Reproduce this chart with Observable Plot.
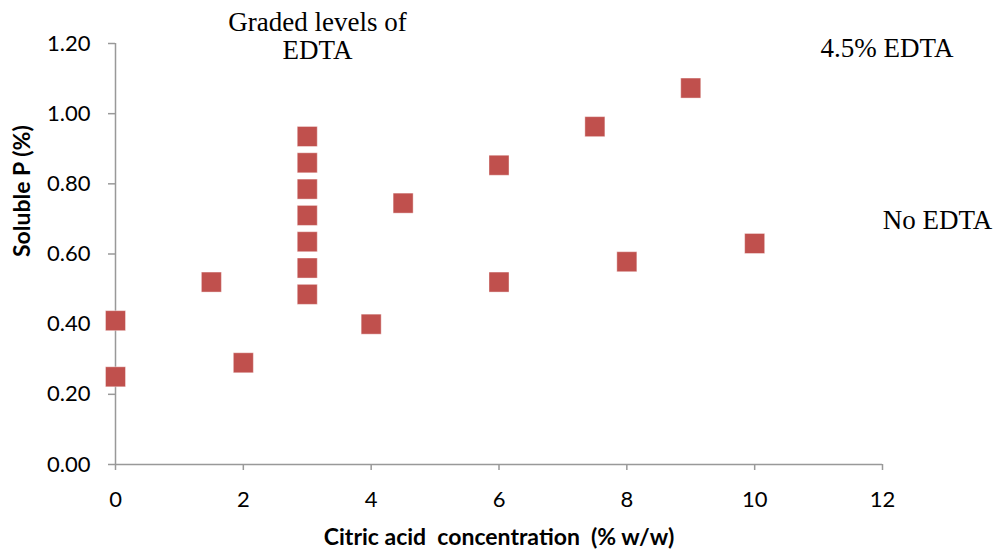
<!DOCTYPE html>
<html><head><meta charset="utf-8">
<script src="https://cdn.jsdelivr.net/npm/d3@7"></script>
<script src="https://cdn.jsdelivr.net/npm/@observablehq/plot@0.6"></script>
<style>body{margin:0;background:#fff}</style>
</head><body><div id="chart"></div>
<script>
const citric = [0, 0, 1.5, 2, 3, 3, 3, 3, 3, 3, 3, 4, 4.5, 6, 6, 7.5, 8, 9, 10];
const solubleP = [0.41, 0.25, 0.52, 0.29, 0.935, 0.86, 0.785, 0.71, 0.635, 0.56, 0.485, 0.40, 0.745, 0.853, 0.52, 0.963, 0.578, 1.073, 0.63];
const xTicks = [0, 2, 4, 6, 8, 10, 12];
const yTicks = [0, 0.2, 0.4, 0.6, 0.8, 1.0, 1.2];
const noteText = ["Graded levels of", "EDTA", "4.5% EDTA", "No EDTA"];
const noteX = [3.16, 3.16, 12.07, 12.86];
const noteY = [1.26, 1.18, 1.185, 0.695];

const points = citric.map((x, i) => ({x, y: solubleP[i]}));
const notes = noteText.map((t, i) => ({t, x: noteX[i], y: noteY[i]}));

const chart = Plot.plot({
  width: 995, height: 554,
  marginLeft: 115, marginRight: 113, marginTop: 43, marginBottom: 90,
  style: {fontFamily: "Lato, 'Liberation Sans', sans-serif", fontSize: "21px", color: "#000", background: "#fff", overflow: "visible"},
  x: {domain: [0, 12]},
  y: {domain: [0, 1.2]},
  marks: [
    Plot.ruleX([0], {y1: 0, y2: 1.2, stroke: "#999", strokeWidth: 1.5}),
    Plot.ruleY([0], {x1: 0, x2: 12, stroke: "#999", strokeWidth: 1.5}),
    Plot.axisY(yTicks, {tickSize: 7, tickPadding: 18, stroke: "#999", strokeWidth: 1.5, tickFormat: d => d.toFixed(2), fill: "#000", fontSize: 22, label: null}),
    Plot.axisX(xTicks, {tickSize: 6, tickPadding: 21, stroke: "#999", strokeWidth: 1.5, fill: "#000", fontSize: 22, label: null}),
    Plot.text(["Citric acid  concentration  (% w/w)"], {frameAnchor: "bottom", dy: 80, fontWeight: "bold", fontSize: 23, style: "white-space:pre"}),
    Plot.text(["Soluble P (%)"], {frameAnchor: "left", dx: -93, dy: 3, rotate: -90, fontWeight: "bold", fontSize: 23}),
    Plot.dot(points, {x: "x", y: "y", symbol: "square", r: 11.3, fill: "#C0504D", stroke: "#fff", strokeOpacity: 0.5, strokeWidth: 0.8}),
    Plot.text(notes, {x: "x", y: "y", text: "t", fontFamily: "'Liberation Serif', serif", fontSize: 27, clip: false})
  ]
});
document.getElementById("chart").append(chart);
</script></body></html>
